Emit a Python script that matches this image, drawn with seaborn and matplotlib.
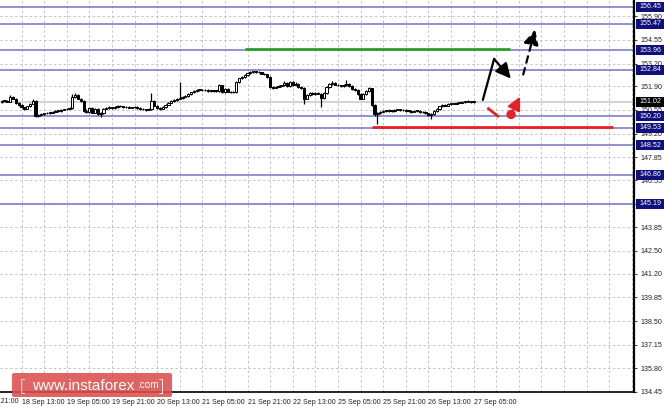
import numpy as np
import matplotlib
matplotlib.use("Agg")
import matplotlib.pyplot as plt
import matplotlib.transforms as mtrans
from matplotlib.patches import Rectangle, FancyBboxPatch
import seaborn as sns

sns.set_style("white")
plt.rcParams['font.family'] = ['Liberation Sans', 'DejaVu Sans']

# ---------------- data (H1 candles, bar index 0 = 18 Sep 13:00) ----------------
first_bar = -7
first_open = 151.00
closes = [
    151.05, 151.08, 151.02, 151.30, 151.20, 150.95, 150.85, 150.70, 150.62, 150.75,
    150.90, 151.08, 150.20, 150.28, 150.32, 150.35, 150.40, 150.38, 150.45, 150.50,
    150.48, 150.55, 150.58, 150.62, 150.65, 151.30, 151.40, 151.20, 151.05, 150.50,
    150.45, 150.65, 150.40, 150.60, 150.30, 150.35, 150.62, 150.68, 150.70, 150.65,
    150.72, 150.80, 150.76, 150.70, 150.72, 150.68, 150.70, 150.72, 150.66, 150.62,
    150.58, 150.55, 150.60, 151.05, 150.80, 150.65, 150.62, 150.70, 150.85, 150.95,
    151.05, 151.12, 151.20, 151.25, 151.30, 151.35, 151.45, 151.55, 151.62, 151.70,
    151.68, 151.66, 151.68, 151.64, 151.66, 151.63, 151.65, 151.95, 151.55, 151.75,
    151.60, 151.55, 151.58, 152.15, 152.35, 152.45, 152.55, 152.65, 152.72, 152.75,
    152.72, 152.70, 152.62, 152.58, 152.45, 151.85, 151.82, 151.88, 151.90, 151.95,
    152.10, 151.90, 152.15, 151.95, 152.05, 151.85, 151.80, 151.20, 151.40, 151.50,
    151.45, 151.52, 151.48, 151.25, 151.50, 151.85, 152.05, 152.10, 152.00, 151.95,
    151.92, 151.98, 152.05, 151.90, 151.75, 151.70, 151.45, 151.20, 151.45, 151.65,
    151.78, 150.85, 150.30, 150.35, 150.45, 150.50, 150.48, 150.52, 150.50, 150.55,
    150.58, 150.52, 150.55, 150.50, 150.48, 150.45, 150.50, 150.48, 150.42, 150.45,
    150.35, 150.25, 150.30, 150.50, 150.60, 150.75, 150.85, 150.80, 150.88, 150.92,
    150.90, 150.95, 150.97, 151.00, 151.02, 151.05, 151.00, 151.02,
]
highs = [
    151.10, 151.14, 151.12, 151.38, 151.35, 151.24, 151.00, 150.90, 150.74, 150.80,
    150.95, 151.15, 151.12, 150.33, 150.38, 150.40, 150.45, 150.44, 150.50, 150.55,
    150.54, 150.60, 150.63, 150.67, 150.70, 151.48, 151.52, 151.45, 151.25, 151.10,
    150.62, 150.72, 150.70, 150.66, 150.64, 150.42, 150.66, 150.73, 150.75, 150.74,
    150.77, 150.85, 150.84, 150.80, 150.77, 150.76, 150.74, 150.77, 150.76, 150.70,
    150.66, 150.62, 150.64, 151.50, 151.10, 150.85, 150.70, 150.75, 150.90, 151.00,
    151.10, 151.17, 151.25, 152.15, 151.36, 151.40, 151.50, 151.60, 151.67, 151.75,
    151.74, 151.72, 151.73, 151.72, 151.70, 151.70, 151.70, 152.05, 151.98, 151.80,
    151.80, 151.65, 151.63, 152.20, 152.40, 152.50, 152.60, 152.70, 152.77, 152.80,
    152.79, 152.76, 152.74, 152.66, 152.62, 152.50, 151.90, 151.93, 151.95, 152.00,
    152.20, 152.15, 152.22, 152.20, 152.12, 152.10, 151.90, 151.85, 151.45, 151.56,
    151.55, 151.58, 151.56, 151.52, 151.55, 151.90, 152.10, 152.18, 152.14, 152.05,
    152.00, 152.03, 152.28, 152.10, 151.95, 151.80, 151.75, 151.50, 151.50, 151.70,
    151.85, 151.82, 150.90, 150.45, 150.50, 150.56, 150.55, 150.58, 150.57, 150.60,
    150.63, 150.62, 150.60, 150.60, 150.55, 150.52, 150.55, 150.54, 150.52, 150.50,
    150.50, 150.40, 150.35, 150.55, 150.66, 150.80, 150.90, 150.90, 150.92, 150.97,
    150.96, 151.00, 151.02, 151.05, 151.07, 151.09, 151.08, 151.06,
]
lows = [
    150.95, 151.02, 150.98, 150.98, 151.15, 150.90, 150.80, 150.65, 150.57, 150.58,
    150.70, 150.86, 150.12, 150.15, 150.24, 150.28, 150.30, 150.33, 150.35, 150.42,
    150.44, 150.45, 150.52, 150.54, 150.58, 150.60, 151.25, 151.15, 151.00, 150.45,
    150.38, 150.40, 150.35, 150.35, 150.25, 150.12, 150.32, 150.58, 150.63, 150.60,
    150.62, 150.68, 150.72, 150.66, 150.66, 150.64, 150.65, 150.67, 150.62, 150.57,
    150.54, 150.50, 150.52, 150.55, 150.75, 150.60, 150.56, 150.58, 150.66, 150.82,
    150.92, 151.00, 151.08, 151.15, 151.20, 151.26, 151.30, 151.40, 151.50, 151.58,
    151.64, 151.62, 151.62, 151.60, 151.60, 151.58, 151.60, 151.60, 151.50, 151.50,
    151.55, 151.50, 151.52, 151.54, 152.10, 152.30, 152.40, 152.50, 152.60, 152.68,
    152.67, 152.65, 152.58, 152.54, 152.40, 151.78, 151.76, 151.78, 151.84, 151.86,
    151.90, 151.85, 151.86, 151.90, 151.90, 151.80, 151.74, 150.90, 151.15, 151.35,
    151.40, 151.42, 151.44, 150.72, 151.20, 151.45, 151.80, 152.00, 151.95, 151.90,
    151.88, 151.88, 151.94, 151.85, 151.70, 151.65, 151.40, 151.15, 151.15, 151.40,
    151.60, 150.80, 150.20, 149.75, 150.30, 150.42, 150.44, 150.45, 150.46, 150.46,
    150.52, 150.48, 150.48, 150.46, 150.44, 150.40, 150.42, 150.44, 150.38, 150.38,
    150.30, 150.20, 150.05, 150.26, 150.46, 150.56, 150.70, 150.76, 150.76, 150.84,
    150.86, 150.86, 150.92, 150.94, 150.96, 150.98, 150.96, 150.97,
]

current_price = 151.02
blue_levels = [156.45, 155.47, 153.96, 152.84, 150.20, 149.53, 148.52, 146.86, 145.19]
grid_ticks = [134.45, 135.80, 137.15, 138.50, 139.85, 141.20, 142.50, 143.85, 145.20,
              146.55, 147.85, 149.20, 150.55, 151.90, 153.20, 154.55, 155.90]
x_tick_pos = [-16, 0, 16, 32, 48, 64, 80, 96, 112, 128, 144, 160]
x_tick_labels = ["17 Sep 21:00", "18 Sep 13:00", "19 Sep 05:00", "19 Sep 21:00",
                 "20 Sep 13:00", "21 Sep 05:00", "21 Sep 21:00", "22 Sep 13:00",
                 "25 Sep 05:00", "25 Sep 21:00", "26 Sep 13:00", "27 Sep 05:00"]

# forecast drawing (bar index, price)
green_level = [79.0, 173.0, 154.00]
red_level = [124.0, 209.5, 149.56]
black_path = [(163.3, 151.12), (167.3, 153.46), (173.2, 152.34)]
black_dashed = [(177.6, 152.57), (181.8, 155.14)]
red_segment = [(164.9, 150.67), (169.0, 150.15)]
red_dot = (173.3, 150.29)
red_arrow_tip = (176.5, 151.31)

# ---------------- figure ----------------
W, H = 664, 409
fig = plt.figure(figsize=(W / 100, H / 100), dpi=100)
fig.patch.set_facecolor("white")
ax = fig.add_axes([0, 17 / H, 634 / W, 392 / H])
ax.set_facecolor("white")

ylo, yhi = 134.45, 134.45 + 392 / 17.52
xlo, xhi = -21.5 / 2.825, (634 - 21.5) / 2.825
ax.set_xlim(xlo, xhi)
ax.set_ylim(ylo, yhi)

FS = 5.1

# grid
grid_kw = dict(color="#c4c4c4", lw=0.7, ls=(0, (2.5, 2.5)), zorder=0)
for gx in np.arange(-8, 217, 8):
    ax.axvline(gx, **grid_kw)
for gy in grid_ticks:
    ax.axhline(gy, **grid_kw)

# current price line
ax.axhline(current_price, color="#cfcfcf", lw=1.3, zorder=1)

# blue levels
for lv in blue_levels:
    ax.axhline(lv, color="#7474c2", lw=1.1, zorder=2)

# candles
xs = np.arange(first_bar, first_bar + len(closes))
opens = [first_open] + closes[:-1]
c = np.array(closes); o = np.array(opens)
ax.vlines(xs, lows, highs, color="black", lw=0.9, zorder=3)
bottoms = np.minimum(o, c)
heights = np.maximum(np.abs(c - o), 0.04)
fills = ["white" if cc >= oo else "black" for cc, oo in zip(c, o)]
ax.bar(xs, heights, bottom=bottoms, width=0.8, color=fills, edgecolor="black",
       linewidth=0.7, zorder=4)

# green and red levels
ax.plot(green_level[:2], [green_level[2]] * 2, color="#2ca02c", lw=2.0, zorder=5,
        solid_capstyle="butt")
ax.plot(red_level[:2], [red_level[2]] * 2, color="#e8202a", lw=2.0, zorder=5,
        solid_capstyle="butt")

# black arrows
ax.plot([black_path[0][0], black_path[1][0]], [black_path[0][1], black_path[1][1]],
        color="black", lw=1.6, zorder=6)
ax.annotate("", xy=black_path[2], xytext=black_path[1],
            arrowprops=dict(arrowstyle="-|>,head_length=0.9,head_width=0.45",
                            color="black", lw=1.6, shrinkA=0, shrinkB=0), zorder=6)
ax.annotate("", xy=black_dashed[1], xytext=black_dashed[0],
            arrowprops=dict(arrowstyle="-|>,head_length=0.9,head_width=0.45",
                            color="black", lw=1.6, ls=(0, (3, 2.5)),
                            shrinkA=0, shrinkB=0), zorder=6)

# red marks
ax.plot([p[0] for p in red_segment], [p[1] for p in red_segment], color="#e8202a",
        lw=2.0, zorder=6, solid_capstyle="butt")
ax.annotate("", xy=red_arrow_tip, xytext=red_dot,
            arrowprops=dict(arrowstyle="-|>,head_length=0.8,head_width=0.4",
                            color="#e8202a", lw=1.6, shrinkA=0, shrinkB=0), zorder=6)
sns.scatterplot(x=[red_dot[0]], y=[red_dot[1]], color="#e8202a", s=45,
                edgecolor="none", ax=ax, zorder=7, legend=False)

# spines
for s in ["top", "left"]:
    ax.spines[s].set_visible(False)
ax.spines["right"].set_linewidth(1.6)
ax.spines["bottom"].set_linewidth(1.2)
ax.spines["right"].set_color("black")
ax.spines["bottom"].set_color("black")

# y ticks on the right
ax.yaxis.tick_right()
ax.set_yticks(grid_ticks)
ax.set_yticklabels([f"{v:.2f}" for v in grid_ticks])
ax.tick_params(axis="y", which="major", direction="out", length=2.5, width=0.6,
               pad=2.2, labelsize=FS, colors="#222222")
ax.tick_params(axis="x", which="major", direction="out", length=3, width=0.8,
               pad=1.8, labelsize=FS, colors="#222222")
ax.set_xticks(x_tick_pos[1:])
ax.set_xticklabels(x_tick_labels[1:], ha="left")
# partially cut label at the left edge
xtrans = mtrans.blended_transform_factory(ax.transData, ax.transAxes)
ax.text(x_tick_pos[0], -0.0145, x_tick_labels[0], transform=xtrans, ha="left",
        va="top", fontsize=FS, color="#222222", clip_on=False)

# price boxes on the right axis
ytrans = mtrans.blended_transform_factory(ax.transAxes, ax.transData)
box_h = 10 / 17.52
for lv in blue_levels + [current_price]:
    fc = "black" if lv == current_price else "#10107a"
    ax.add_patch(Rectangle((636 / 634, lv - box_h / 2), 30 / 634, box_h,
                           transform=ytrans, facecolor=fc, edgecolor="none",
                           clip_on=False, zorder=10))
    ax.text(639.5 / 634, lv, f"{lv:.2f}", transform=ytrans, ha="left", va="center",
            fontsize=FS, color="white", clip_on=False, zorder=11)

# watermark
wm = FancyBboxPatch((12 / W, 1 - 397 / H), 160 / W, 24 / H,
                    boxstyle="round,pad=0,rounding_size=0.004",
                    transform=fig.transFigure, facecolor="#dc4f4f", alpha=0.88,
                    edgecolor="none", zorder=20)
fig.patches.append(wm)
ty = 1 - 386 / H
fig.text(20 / W, ty, "[", color="white", fontsize=12, va="center", ha="left",
         zorder=21, family=["Open Sans", "DejaVu Sans"], fontweight="light")
fig.text(32 / W, ty, "www.instaforex", color="white", fontsize=11, va="center",
         ha="left", zorder=21)
fig.text(137 / W, ty + 0.002, ".com", color="white", fontsize=7.2, va="center",
         ha="left", zorder=21)
fig.text(159 / W, ty, "]", color="white", fontsize=12, va="center", ha="left",
         zorder=21, family=["Open Sans", "DejaVu Sans"], fontweight="light")

fig.savefig("out.png", dpi=100, facecolor="white")
